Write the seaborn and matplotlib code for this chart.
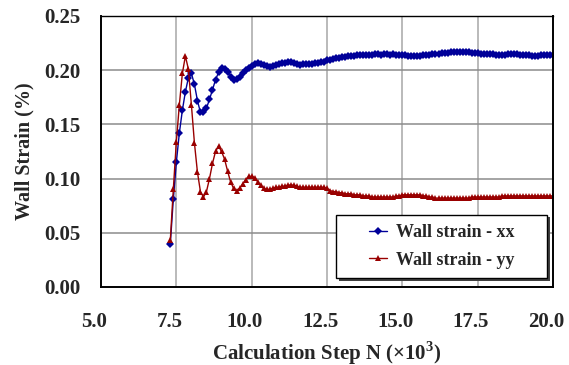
import numpy as np
import pandas as pd
import matplotlib
matplotlib.use("Agg")
import matplotlib.pyplot as plt
import matplotlib.transforms as mtransforms
from matplotlib.patches import Rectangle
import seaborn as sns

# calculation steps (x10^3), one sample every 100 steps
steps = np.round(np.arange(7.3, 20.05, 0.1), 1)

strain_xx = [
    0.040, 0.081, 0.115, 0.142, 0.163, 0.180, 0.193, 0.197, 0.187, 0.172,
    0.161, 0.161, 0.165, 0.173, 0.182, 0.191, 0.198, 0.202, 0.201, 0.198,
    0.194, 0.191, 0.192, 0.194, 0.197, 0.200, 0.202,
    0.204, 0.206, 0.207, 0.206, 0.205, 0.204, 0.203, 0.204, 0.205, 0.206,
    0.207, 0.207, 0.208, 0.208, 0.207, 0.206, 0.205, 0.206, 0.206, 0.206,
    0.206, 0.207, 0.207, 0.208, 0.208, 0.209, 0.209, 0.210, 0.211, 0.211,
    0.212, 0.212, 0.213, 0.213, 0.213, 0.214, 0.214, 0.214, 0.214, 0.214,
    0.214, 0.215, 0.215, 0.214, 0.215, 0.215, 0.214, 0.215, 0.214, 0.214,
    0.214, 0.214, 0.213, 0.213, 0.213, 0.213, 0.213, 0.214, 0.214, 0.214,
    0.215, 0.215, 0.215, 0.216, 0.216, 0.216, 0.217, 0.217, 0.217, 0.217,
    0.217, 0.217, 0.217, 0.216, 0.216, 0.216, 0.215, 0.215, 0.215, 0.215,
    0.215, 0.214, 0.214, 0.214, 0.214, 0.215, 0.215, 0.215, 0.215, 0.214,
    0.214, 0.214, 0.214, 0.213, 0.213, 0.213, 0.214, 0.214, 0.214, 0.214,
    0.214,
]

strain_yy = [
    0.043, 0.090, 0.134, 0.168, 0.197, 0.213, 0.201, 0.168, 0.133, 0.106,
    0.088, 0.083, 0.088, 0.100, 0.114, 0.125, 0.130, 0.125, 0.118, 0.107,
    0.097, 0.091, 0.089, 0.091, 0.095, 0.099, 0.102,
    0.102, 0.101, 0.097, 0.094, 0.091, 0.090, 0.090, 0.091, 0.092, 0.092,
    0.093, 0.093, 0.094, 0.094, 0.094, 0.093, 0.092, 0.092, 0.092, 0.092,
    0.092, 0.092, 0.092, 0.092, 0.092, 0.091, 0.089, 0.088, 0.088, 0.087,
    0.087, 0.086, 0.086, 0.086, 0.085, 0.085, 0.085, 0.084, 0.084, 0.084,
    0.083, 0.083, 0.083, 0.083, 0.083, 0.083, 0.083, 0.083, 0.084, 0.084,
    0.085, 0.085, 0.085, 0.085, 0.085, 0.085, 0.085, 0.084, 0.084, 0.083,
    0.083, 0.082, 0.082, 0.082, 0.082, 0.082, 0.082, 0.082, 0.082, 0.082,
    0.082, 0.082, 0.082, 0.083, 0.083, 0.083, 0.083, 0.083, 0.083, 0.083,
    0.083, 0.083, 0.083, 0.084, 0.084, 0.084, 0.084, 0.084, 0.084, 0.084,
    0.084, 0.084, 0.084, 0.084, 0.084, 0.084, 0.084, 0.084, 0.084, 0.084,
    0.084,
]

x_ticks = [5.0, 7.5, 10.0, 12.5, 15.0, 17.5, 20.0]
y_ticks = [0.00, 0.05, 0.10, 0.15, 0.20, 0.25]

assert len(steps) == len(strain_xx) == len(strain_yy)

sns.set_style("white")
plt.rcParams["font.family"] = ["Liberation Serif", "DejaVu Serif"]
plt.rcParams["font.weight"] = "bold"
plt.rcParams["mathtext.fontset"] = "custom"
plt.rcParams["mathtext.rm"] = "Liberation Serif:bold"

fig = plt.figure(figsize=(5.69, 3.65), dpi=100)
ax = fig.add_axes([0.1775, 0.2137, 0.7944, 0.7425])

# grid first so lines sit on top
for xv in x_ticks[1:-1]:
    ax.axvline(xv, color="#b4b4b4", lw=1.3, zorder=0)
for yv in y_ticks[1:-1]:
    ax.axhline(yv, color="#8c8c8c", lw=1.1, zorder=0)

sns.lineplot(x=steps, y=strain_xx, ax=ax, color="#000099", lw=1.0,
             marker="D", markersize=4.5, markeredgewidth=0,
             label="Wall strain - xx")
sns.lineplot(x=steps, y=strain_yy, ax=ax, color="#990000", lw=1.0,
             marker="^", markersize=5, markeredgewidth=0,
             label="Wall strain - yy")

ax.set_xlim(5.0, 20.0)
ax.set_ylim(0.0, 0.25)
ax.set_xticks(x_ticks)
ax.set_yticks(y_ticks)
ax.set_xticklabels([f"{v:.1f}" for v in x_ticks], fontsize=15, fontweight="bold")
ax.set_yticklabels([f"{v:.2f}" for v in y_ticks], fontsize=15, fontweight="bold")
ax.tick_params(axis="x", direction="in", length=5, width=1.2, pad=18)
ax.tick_params(axis="y", direction="out", length=3, width=1.2, pad=12)

# x tick labels sit a little left of their ticks, like the original
shift = mtransforms.ScaledTranslation(-0.07, 0, fig.dpi_scale_trans)
for lbl in ax.get_xticklabels():
    lbl.set_transform(lbl.get_transform() + shift)

for s in ax.spines.values():
    s.set_color("black")
    s.set_linewidth(1.4)
ax.spines["top"].set_linewidth(1.0)

ax.set_xlabel(r"Calculation Step N ($\times$10$^{3}$)", fontsize=15,
              fontweight="bold", labelpad=5)
ax.set_ylabel("Wall Strain (%)", fontsize=14.5, fontweight="bold", labelpad=7)

# legend box with drop shadow, entries centred inside it
box = (0.52, 0.033, 0.467, 0.234)
shadow = Rectangle((box[0] + 0.006, box[1] - 0.010), box[2], box[3],
                   transform=ax.transAxes, fc="#404040", ec="none", zorder=4)
frame = Rectangle(box[:2], box[2], box[3], transform=ax.transAxes,
                  fc="white", ec="black", lw=1.0, zorder=4.5)
ax.add_patch(shadow)
ax.add_patch(frame)

leg = ax.legend(loc="center", bbox_to_anchor=(box[0] + box[2] / 2, box[1] + box[3] / 2),
                frameon=False, fontsize=13, handlelength=1.0, handletextpad=0.5,
                labelspacing=0.6, borderpad=0.3)
leg.set_zorder(5)
for t in leg.get_texts():
    t.set_fontweight("bold")

fig.savefig("out.png", dpi=100)
